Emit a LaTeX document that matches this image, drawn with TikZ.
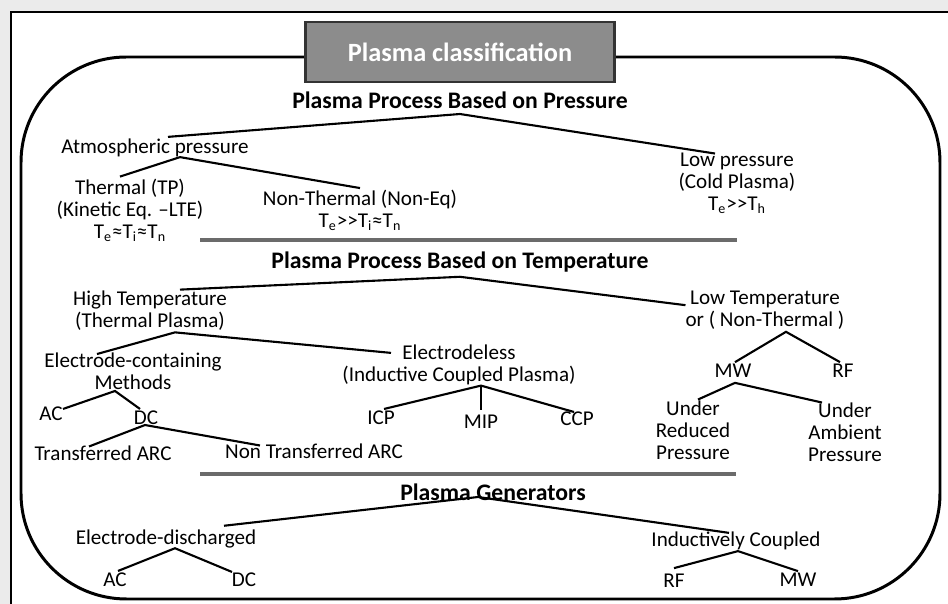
\documentclass[tikz,border=0pt]{standalone}
\usepackage{fontspec}
\setmainfont{Carlito}
\usetikzlibrary{positioning}

\tikzset{
  lbl/.style={align=center, inner sep=1pt, font=\fontsize{12}{12.5}\selectfont},
  head/.style={inner sep=1pt, font=\fontsize{13.5}{14}\selectfont\bfseries},
  br/.style={line width=1.2pt},
  sep/.style={line width=2.3pt, draw=black!58}
}

\begin{document}
\begin{tikzpicture}[x=0.02cm, y=-0.02cm]
      \useasboundingbox (0,0) rectangle (948,604);
      \fill[black!8] (0,0) rectangle (948,604);
      \fill[white] (11,12) rectangle (948,604);
      \draw[line width=0.8pt] (11,604) -- (11,12) -- (948,12);

      % frame and title
      \draw[line width=1.7pt, rounded corners=60] (21,57) rectangle (940,599);
      \node[draw=black!80, fill=black!45, line width=1.6pt, minimum width=309*0.02cm, minimum height=60*0.02cm,
            text=white, font=\fontsize{15}{16}\selectfont\bfseries] (title) at (460,52) {Plasma classification};

      % pressure
      \node[head] (pres) at (460,100) {Plasma Process Based on Pressure};
      \node[lbl] (atm) at (155,148) {Atmospheric pressure};
      \node[lbl] (therm) at (130,210) {Thermal (TP)\\(Kinetic Eq. --LTE)\\T\textsubscript{e}≈T\textsubscript{i}≈T\textsubscript{n}};
      \node[lbl] (nonth) at (360,210.5) {Non-Thermal (Non-Eq)\\T\textsubscript{e}>{}>T\textsubscript{i}≈T\textsubscript{n}};
      \node[lbl] (lowp) at (737,183) {Low pressure\\(Cold Plasma)\\T\textsubscript{e}>{}>T\textsubscript{h}};

      \draw[br] ([shift={(13,0)}]atm.north) -- ([shift={(0,3.5)}]pres.south) -- ([shift={(-22,3)}]lowp.north);
      \draw[br] ([shift={(-10,0)}]therm.north) -- ([shift={(25,-2)}]atm.south) -- (nonth.north);

      \coordinate (s1l) at (200,240);
      \coordinate (s1r) at (737,240);
      \draw[sep] (s1l) -- (s1r);

      % temperature
      \node[head] (temp) at (460,262) {Plasma Process Based on Temperature};
      \node[lbl] (hight) at (150,310.5) {High Temperature\\(Thermal Plasma)};
      \node[lbl] (lowt) at (765,310.5) {Low Temperature\\or ( Non-Thermal )};
      \node[lbl] (elec) at (133,371.5) {Electrode-containing\\Methods};
      \node[lbl] (eless) at (459,365) {Electrodeless\\(Inductive Coupled Plasma)};
      \node[lbl] (ac1) at (51,414) {AC};
      \node[lbl] (dc1) at (146,418) {DC};
      \node[lbl] (tarc) at (103,453) {Transferred ARC};
      \node[lbl] (ntarc) at (314,451) {Non Transferred ARC};
      \node[lbl] (icp) at (381,418) {ICP};
      \node[lbl] (mip) at (481,422) {MIP};
      \node[lbl] (ccp) at (577,419) {CCP};
      \node[lbl] (mw1) at (733,371) {MW};
      \node[lbl] (rf1) at (843,371) {RF};
      \node[lbl] (ured) at (693,430) {Under\\Reduced\\Pressure};
      \node[lbl] (uamb) at (845,432) {Under\\Ambient\\Pressure};

      \draw[br] ([shift={(30,1)}]hight.north) -- ([shift={(0,2.5)}]temp.south) -- ([shift={(2,16)}]lowt.north west);
      \draw[br] ([shift={(-36,3)}]elec.north) -- ([shift={(25,0)}]hight.south) -- ([shift={(-68,10)}]eless.north);
      \draw[br] ([shift={(12,4)}]ac1.north) -- ([shift={(-18,-1)}]elec.south) -- ([shift={(-6,0)}]dc1.north);
      \draw[br] ([shift={(-14,3)}]tarc.north) -- ([shift={(-1,-2)}]dc1.south) -- ([shift={(-54,4)}]ntarc.north);
      \draw[br] ([shift={(3,0)}]icp.north) -- ([shift={(22,-1.5)}]eless.south) -- ([shift={(-3,2)}]ccp.north);
      \draw[br] ([shift={(22,-1.5)}]eless.south) -- ([shift={(0,-3)}]mip.north);
      \draw[br] ([shift={(2,0)}]mw1.north) -- ([shift={(21,0)}]lowt.south) -- ([shift={(-3,0)}]rf1.north);
      \draw[br] ([shift={(5,1)}]ured.north) -- ([shift={(2,3)}]mw1.south) -- ([shift={(-23,2)}]uamb.north);

      \coordinate (s2l) at (200,474);
      \coordinate (s2r) at (736,474);
      \draw[sep] (s2l) -- (s2r);

      % generators
      \node[head] (gen) at (493,492) {Plasma Generators};
      \node[lbl] (edis) at (166,539) {Electrode-discharged};
      \node[lbl] (induc) at (736,541) {Inductively Coupled};
      \node[lbl] (ac2) at (115,580) {AC};
      \node[lbl] (dc2) at (244,580) {DC};
      \node[lbl] (rf2) at (674,581) {RF};
      \node[lbl] (mw2) at (798,580) {MW};

      \draw[br] ([shift={(58,-2)}]edis.north) -- ([shift={(-15,-5.5)}]gen.south) -- ([shift={(-7,3)}]induc.north);
      \draw[br] ([shift={(3,0)}]ac2.north) -- ([shift={(9,-2)}]edis.south) -- ([shift={(-12,1)}]dc2.north);
      \draw[br] ([shift={(0,-4)}]rf2.north) -- ([shift={(2,-1)}]induc.south) -- (mw2.north);
    \end{tikzpicture}
\end{document}
